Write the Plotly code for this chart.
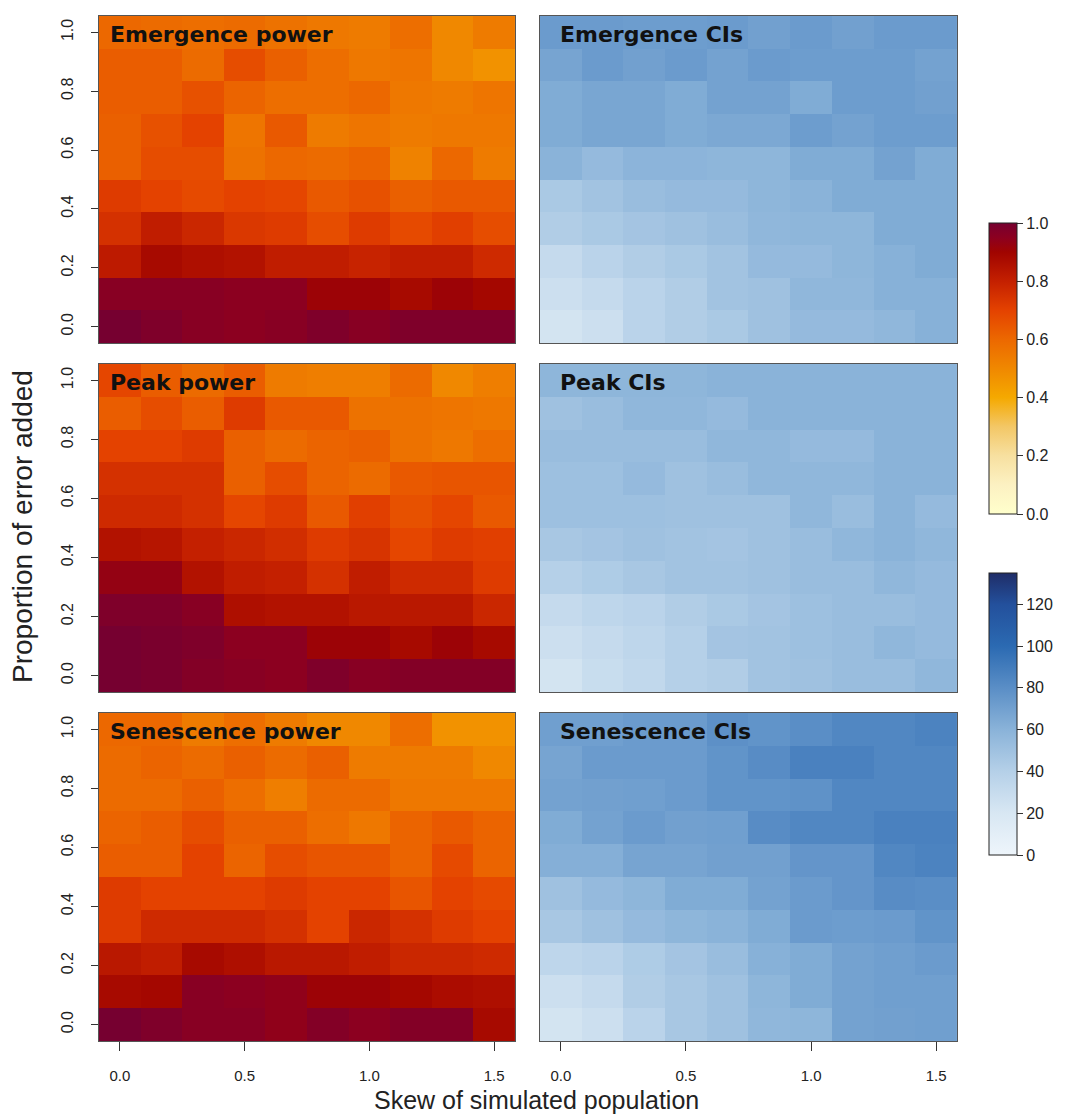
import plotly.graph_objects as go

# Grid coordinates
skew = [0.0, 0.167, 0.333, 0.5, 0.667, 0.833, 1.0, 1.167, 1.333, 1.5]
# Rows listed from the top of each panel (error = 1.0) down to error = 0.0
error_top_down = [1.0, 0.889, 0.778, 0.667, 0.556, 0.444, 0.333, 0.222, 0.111, 0.0]

emergence_power = [
    [0.60, 0.59, 0.58, 0.59, 0.57, 0.55, 0.54, 0.58, 0.50, 0.54],
    [0.63, 0.63, 0.59, 0.67, 0.62, 0.58, 0.55, 0.56, 0.50, 0.47],
    [0.63, 0.63, 0.66, 0.61, 0.58, 0.58, 0.60, 0.55, 0.54, 0.56],
    [0.62, 0.66, 0.70, 0.56, 0.64, 0.54, 0.56, 0.54, 0.55, 0.55],
    [0.62, 0.67, 0.67, 0.57, 0.60, 0.59, 0.61, 0.52, 0.60, 0.54],
    [0.72, 0.70, 0.68, 0.70, 0.69, 0.64, 0.66, 0.62, 0.64, 0.64],
    [0.75, 0.81, 0.78, 0.73, 0.72, 0.67, 0.72, 0.68, 0.71, 0.67],
    [0.82, 0.88, 0.86, 0.85, 0.81, 0.81, 0.79, 0.81, 0.81, 0.77],
    [0.96, 0.96, 0.96, 0.95, 0.95, 0.91, 0.91, 0.88, 0.91, 0.89],
    [1.00, 0.98, 0.96, 0.95, 0.96, 0.98, 0.96, 0.98, 0.98, 0.98],
]
peak_power = [
    [0.69, 0.63, 0.59, 0.63, 0.54, 0.53, 0.53, 0.59, 0.50, 0.53],
    [0.63, 0.67, 0.63, 0.72, 0.64, 0.64, 0.57, 0.57, 0.56, 0.55],
    [0.70, 0.70, 0.72, 0.62, 0.59, 0.61, 0.62, 0.57, 0.55, 0.58],
    [0.75, 0.75, 0.75, 0.62, 0.67, 0.61, 0.59, 0.64, 0.65, 0.65],
    [0.77, 0.77, 0.75, 0.69, 0.72, 0.64, 0.71, 0.66, 0.69, 0.64],
    [0.85, 0.84, 0.80, 0.78, 0.76, 0.72, 0.74, 0.69, 0.72, 0.71],
    [0.93, 0.93, 0.85, 0.81, 0.80, 0.75, 0.81, 0.77, 0.77, 0.72],
    [0.98, 0.98, 0.96, 0.86, 0.85, 0.85, 0.83, 0.83, 0.83, 0.78],
    [1.00, 0.99, 0.98, 0.95, 0.95, 0.91, 0.91, 0.88, 0.91, 0.88],
    [1.00, 0.99, 0.97, 0.96, 0.95, 0.98, 0.96, 0.97, 0.97, 0.97],
]
senescence_power = [
    [0.60, 0.60, 0.54, 0.58, 0.54, 0.50, 0.50, 0.58, 0.47, 0.47],
    [0.59, 0.61, 0.59, 0.62, 0.59, 0.62, 0.54, 0.54, 0.54, 0.50],
    [0.59, 0.59, 0.62, 0.58, 0.53, 0.59, 0.59, 0.55, 0.55, 0.55],
    [0.61, 0.63, 0.67, 0.62, 0.62, 0.58, 0.55, 0.61, 0.64, 0.61],
    [0.63, 0.63, 0.70, 0.61, 0.67, 0.65, 0.65, 0.61, 0.68, 0.61],
    [0.72, 0.70, 0.70, 0.70, 0.72, 0.70, 0.70, 0.65, 0.70, 0.68],
    [0.72, 0.77, 0.77, 0.77, 0.75, 0.70, 0.78, 0.75, 0.72, 0.70],
    [0.83, 0.81, 0.88, 0.86, 0.83, 0.83, 0.81, 0.78, 0.78, 0.77],
    [0.88, 0.89, 0.96, 0.95, 0.94, 0.91, 0.91, 0.89, 0.87, 0.86],
    [1.00, 0.98, 0.96, 0.96, 0.94, 0.97, 0.95, 0.97, 0.97, 0.88],
]
emergence_cis = [
    [73, 73, 72, 72, 73, 70, 73, 70, 73, 73],
    [68, 73, 70, 73, 69, 73, 72, 72, 72, 69],
    [64, 67, 67, 64, 69, 69, 64, 72, 72, 70],
    [64, 67, 67, 64, 66, 66, 72, 69, 72, 72],
    [60, 55, 59, 59, 58, 58, 64, 64, 69, 64],
    [45, 49, 53, 55, 55, 58, 60, 64, 64, 64],
    [42, 45, 48, 50, 53, 57, 58, 58, 64, 64],
    [31, 37, 42, 45, 49, 55, 55, 58, 61, 64],
    [27, 31, 37, 42, 49, 50, 57, 57, 61, 61],
    [23, 27, 37, 42, 45, 50, 55, 55, 57, 61],
]
peak_cis = [
    [58, 58, 58, 58, 60, 60, 60, 60, 60, 60],
    [50, 53, 57, 57, 55, 60, 60, 60, 60, 60],
    [53, 53, 53, 53, 57, 57, 55, 55, 60, 60],
    [51, 51, 55, 50, 53, 57, 57, 57, 60, 60],
    [51, 51, 51, 50, 50, 50, 57, 53, 60, 55],
    [46, 48, 50, 49, 48, 50, 53, 57, 60, 57],
    [40, 43, 46, 49, 49, 50, 53, 53, 57, 55],
    [31, 35, 37, 42, 45, 48, 51, 53, 53, 55],
    [27, 31, 35, 40, 48, 49, 51, 53, 57, 55],
    [23, 29, 33, 40, 42, 49, 50, 53, 53, 57],
]
senescence_cis = [
    [71, 71, 73, 73, 79, 77, 80, 84, 84, 86],
    [68, 73, 73, 73, 77, 81, 87, 87, 84, 84],
    [69, 70, 71, 73, 77, 77, 78, 84, 84, 84],
    [64, 69, 73, 70, 71, 81, 84, 84, 87, 87],
    [62, 62, 68, 68, 70, 70, 76, 76, 84, 86],
    [50, 55, 58, 64, 64, 69, 73, 76, 81, 80],
    [46, 50, 55, 58, 60, 64, 73, 72, 73, 77],
    [35, 37, 43, 48, 53, 61, 64, 69, 71, 73],
    [27, 31, 42, 46, 50, 58, 64, 69, 71, 71],
    [23, 27, 37, 46, 50, 57, 58, 69, 70, 71],
]

power_ticks = [0.0, 0.2, 0.4, 0.6, 0.8, 1.0]
ci_ticks = [0, 20, 40, 60, 80, 100, 120]
y_ticks = [0.0, 0.2, 0.4, 0.6, 0.8, 1.0]
x_ticks = [0.0, 0.5, 1.0, 1.5]

panels = [
    ("Emergence power", emergence_power, "coloraxis"),
    ("Emergence CIs", emergence_cis, "coloraxis2"),
    ("Peak power", peak_power, "coloraxis"),
    ("Peak CIs", peak_cis, "coloraxis2"),
    ("Senescence power", senescence_power, "coloraxis"),
    ("Senescence CIs", senescence_cis, "coloraxis2"),
]

W, H = 1074, 1117
col_px = [(99, 515), (540, 957)]
row_px = [(16, 343), (364, 692), (713, 1041)]

power_scale = [
    [0.0, "#FFFFCC"], [0.1, "#FCF1C2"], [0.2, "#F7E0A0"], [0.3, "#F3C766"],
    [0.4, "#F5A900"], [0.5, "#F08800"], [0.6, "#EC6800"], [0.7, "#E44200"],
    [0.8, "#C42000"], [0.9, "#A00400"], [0.95, "#8C0020"], [1.0, "#760030"],
]
blue_scale = [
    [0.0, "#EEF5FB"], [0.148, "#D8E7F3"], [0.296, "#B5D0E8"], [0.444, "#8AB3D9"],
    [0.593, "#5A8EC6"], [0.741, "#2B6AB2"], [0.889, "#23509C"], [1.0, "#1F2D68"],
]

fig = go.Figure()
layout = {}
annotations = []

for i, (title, z, cax) in enumerate(panels):
    r, c = divmod(i, 2)
    n = i + 1
    xa = "x" if n == 1 else f"x{n}"
    ya = "y" if n == 1 else f"y{n}"
    fig.add_trace(go.Heatmap(
        x=skew, y=error_top_down[::-1], z=z[::-1],
        coloraxis=cax, xaxis=xa, yaxis=ya, xgap=0, ygap=0,
        hoverinfo="skip",
    ))
    x0, x1 = col_px[c]
    y0, y1 = row_px[r]
    xkey = "xaxis" if n == 1 else f"xaxis{n}"
    ykey = "yaxis" if n == 1 else f"yaxis{n}"
    bottom = r == 2
    left = c == 0
    layout[xkey] = dict(
        domain=[x0 / W, x1 / W], anchor=ya, range=[-1 / 12, 1.5 + 1 / 12],
        showgrid=False, zeroline=False, showline=True, mirror=True,
        linecolor="#555555", linewidth=1,
        tickmode="array", tickvals=x_ticks,
        ticktext=[f"{v:.1f}" for v in x_ticks],
        ticks="outside" if bottom else "", ticklen=9, tickcolor="#333333",
        showticklabels=bottom, ticklabelstandoff=12,
        tickfont=dict(family="Liberation Sans", size=15, color="#222222"),
    )
    layout[ykey] = dict(
        domain=[1 - y1 / H, 1 - y0 / H], anchor=xa, range=[-1 / 18, 1 + 1 / 18],
        showgrid=False, zeroline=False, showline=True, mirror=True,
        linecolor="#555555", linewidth=1,
        tickmode="array", tickvals=y_ticks,
        ticktext=[f"{v:.1f}" for v in y_ticks],
        ticks="outside" if left else "", ticklen=7, tickcolor="#333333",
        showticklabels=left, tickangle=-90, ticklabelstandoff=12,
        tickfont=dict(family="Liberation Sans", size=16, color="#222222"),
    )
    annotations.append(dict(
        text=f"<b>{title}</b>", xref="paper", yref="paper",
        x=(x0 + (9 if left else 18)) / W, y=1 - (y0 + 18) / H,
        xanchor="left", yanchor="middle", showarrow=False,
        font=dict(family="DejaVu Sans", size=22, color="#111111"),
    ))

annotations.append(dict(
    text="Proportion of error added", xref="paper", yref="paper",
    x=22 / W, y=1 - 527 / H, xanchor="center", yanchor="middle",
    textangle=-90, showarrow=False,
    font=dict(family="Liberation Sans", size=28, color="#222222"),
))
annotations.append(dict(
    text="Skew of simulated population", xref="paper", yref="paper",
    x=536 / W, y=1 - 1100 / H, xanchor="center", yanchor="middle",
    showarrow=False,
    font=dict(family="Liberation Sans", size=25, color="#222222"),
))

cb_common = dict(
    thickness=28, thicknessmode="pixels", lenmode="pixels",
    x=989 / W, xanchor="left", xpad=0, ypad=0, yanchor="middle",
    outlinecolor="#222222", outlinewidth=1,
    ticks="outside", ticklen=6, tickcolor="#333333",
    tickfont=dict(family="Liberation Sans", size=16, color="#222222"),
    tickmode="array",
)

layout["coloraxis"] = dict(
    colorscale=power_scale, cmin=0, cmax=1,
    colorbar=dict(cb_common, len=291, y=1 - 368.5 / H,
                  tickvals=power_ticks,
                  ticktext=[f"{v:.1f}" for v in power_ticks]),
)
layout["coloraxis2"] = dict(
    colorscale=blue_scale, cmin=0, cmax=135,
    colorbar=dict(cb_common, len=282, y=1 - 714 / H,
                  tickvals=ci_ticks, ticktext=[str(v) for v in ci_ticks]),
)

fig.update_layout(
    width=W, height=H, margin=dict(l=0, r=0, t=0, b=0),
    paper_bgcolor="white", plot_bgcolor="white",
    annotations=annotations, **layout,
)

fig.write_html("out.html")
